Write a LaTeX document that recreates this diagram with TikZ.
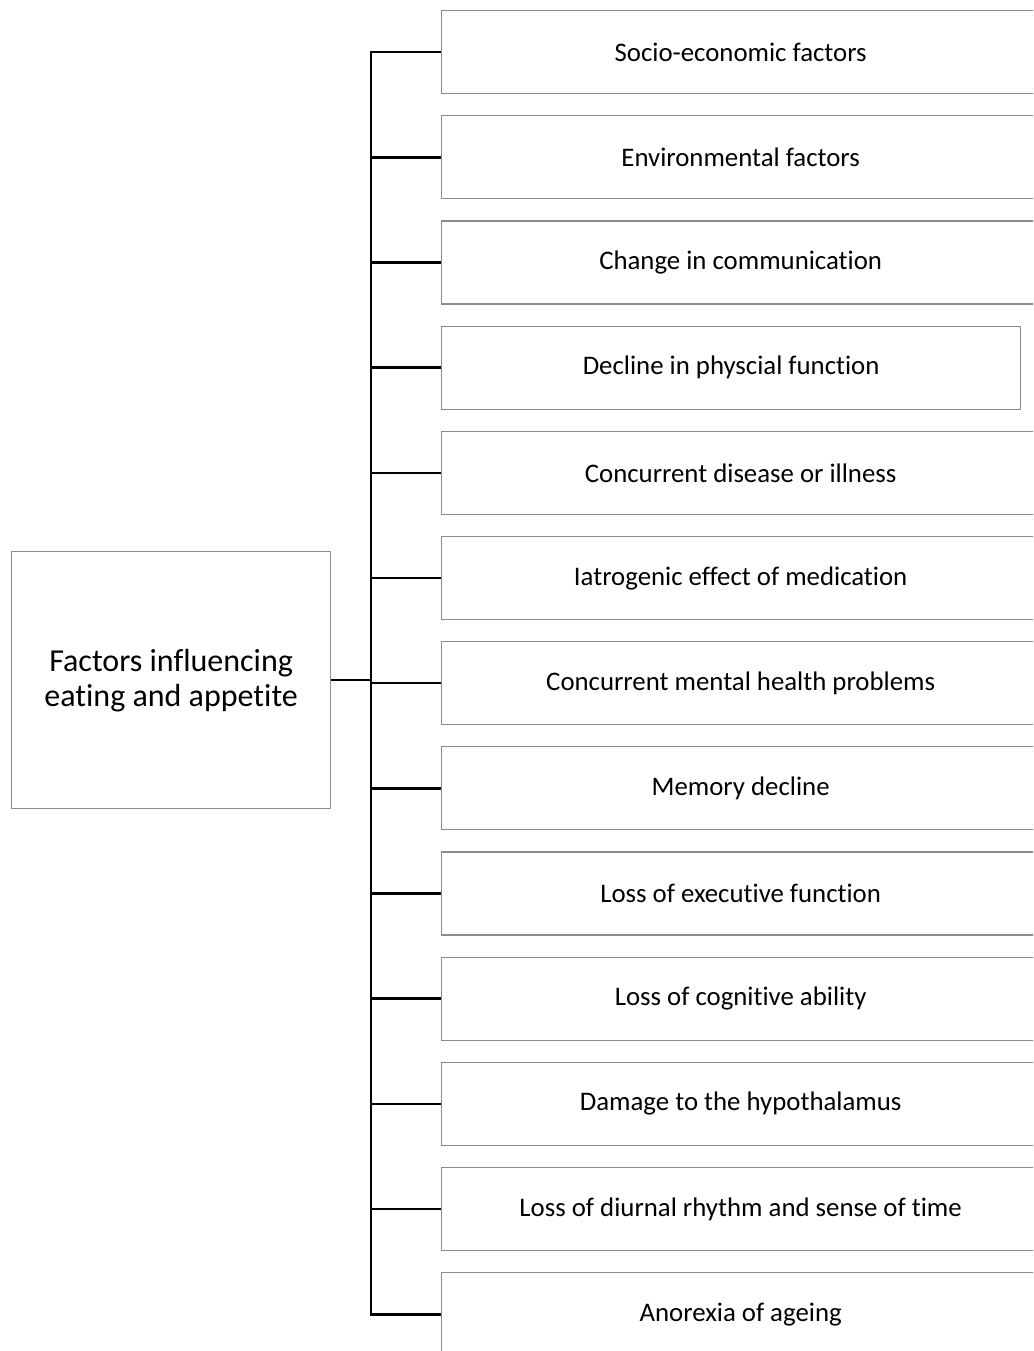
\documentclass[tikz,border=0pt]{standalone}
\usepackage{fontspec}
\setmainfont[Ligatures={NoCommon}]{Carlito}
\begin{document}
\begin{tikzpicture}[x=1pt,y=-1pt,
  factor/.style={draw=boxgray,line width=1.3pt,minimum height=83pt,minimum width=598pt,
    inner sep=0pt,font=\fontsize{26.8}{32}\selectfont,anchor=north west,text=black},
  hub/.style={draw=boxgray,line width=1.3pt,minimum height=257pt,minimum width=319pt,
    inner sep=0pt,align=center,font=\fontsize{32}{35}\selectfont,anchor=north west},
  link/.style={line width=2.6pt,black}]
\definecolor{boxgray}{HTML}{8C8C8C}
\useasboundingbox (0,0) rectangle (1033,1351);
\clip (0,0) rectangle (1033,1351);
\fill[white] (0,0) rectangle (1033,1351);

\node[hub] (hub) at (11,551) {Factors influencing\\eating and appetite};

\foreach \i/\t in {1/Socio-economic factors,2/Environmental factors,3/Change in communication,
  5/Concurrent disease or illness,6/Iatrogenic effect of medication,
  7/Concurrent mental health problems,8/Memory decline,9/Loss of executive function,
  10/Loss of cognitive ability,11/Damage to the hypothalamus,
  12/Loss of diurnal rhythm and sense of time,13/Anorexia of ageing}{
  \node[factor] (f\i) at (441,{10+(\i-1)*105.17}) {\t};
}
\node[factor,minimum width=579pt] (f4) at (441,{10+3*105.17}) {Decline in physcial function};

% trunk and branches
\coordinate (trunk) at (371,0);
\draw[link,line cap=rect] (f1.west -| trunk) -- (f13.west -| trunk);
\foreach \i in {1,...,13}{
  \draw[link] (f\i.west -| trunk) -- (f\i.west);
}
\draw[link] (hub.east) -- (hub.east -| trunk);
\end{tikzpicture}
\end{document}
